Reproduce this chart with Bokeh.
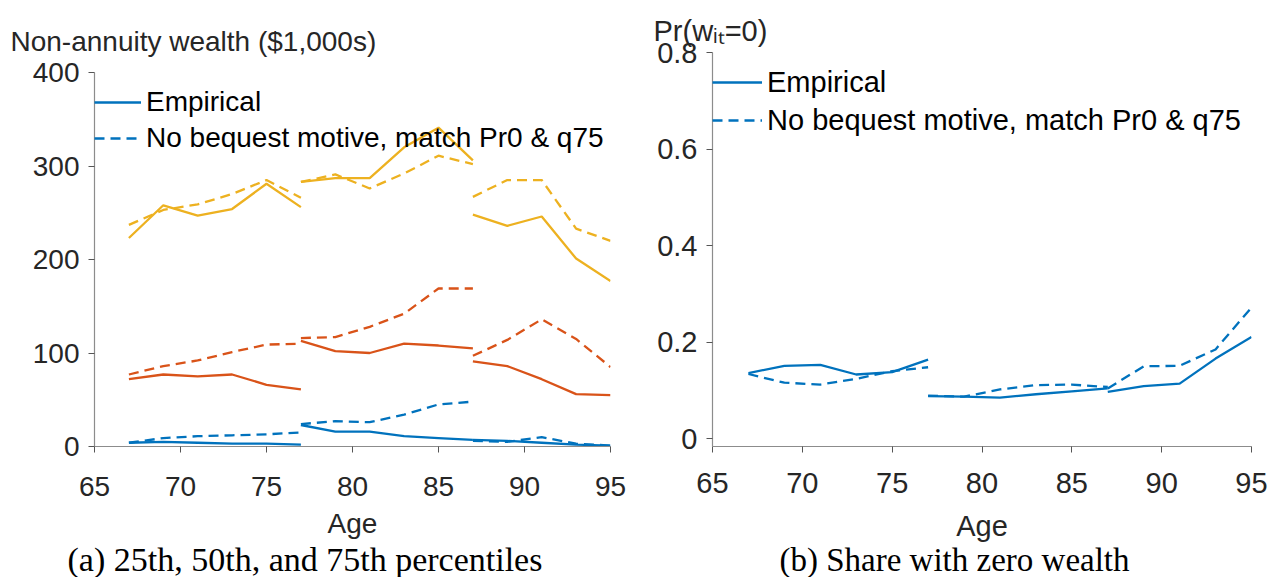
from bokeh.plotting import figure
from bokeh.layouts import row
from bokeh.models import Legend, LegendItem, FixedTicker, Range1d, Title
from bokeh.embed import file_html
from bokeh.resources import INLINE

# ---------------- data ----------------
age_a = [67, 69, 71, 73, 75, 77]
age_b = [77, 79, 81, 83, 85, 87]
age_c = [87, 89, 91, 93, 95]

# Panel (a): wealth percentiles ($1,000s)
p75_emp_a = [223, 258, 247, 254, 281, 256]
p75_emp_b = [283, 287, 287, 320, 341, 306]
p75_emp_c = [248, 236, 246, 201, 177]
p75_sim_a = [237, 253, 259, 270, 285, 266]
p75_sim_b = [283, 291, 276, 292, 311, 302]
p75_sim_c = [267, 285, 285, 233, 220]

p50_emp_a = [72, 77, 75, 77, 66, 61]
p50_emp_b = [113, 102, 100, 110, 108, 105]
p50_emp_c = [91, 86, 72, 56, 55]
p50_sim_a = [77, 86, 92, 101, 109, 110]
p50_sim_b = [116, 117, 128, 142, 169, 169]
p50_sim_c = [97, 114, 136, 115, 85]

p25_emp_a = [4, 5, 4, 3, 3, 2]
p25_emp_b = [23, 16, 16, 11, 9, 7]
p25_emp_c = [7, 6, 4, 2, 1]
p25_sim_a = [4, 9, 11, 12, 13, 15]
p25_sim_b = [24, 27, 26, 34, 45, 48]
p25_sim_c = [6, 5, 10, 3, 1]

# Panel (b): share with zero wealth
pr0_emp_a = [0.136, 0.151, 0.153, 0.133, 0.138, 0.164]
pr0_emp_b = [0.088, 0.087, 0.085, 0.092, 0.098, 0.104]
pr0_emp_c = [0.097, 0.109, 0.114, 0.166, 0.211]
pr0_sim_a = [0.134, 0.116, 0.112, 0.124, 0.140, 0.148]
pr0_sim_b = [0.089, 0.087, 0.102, 0.111, 0.112, 0.107]
pr0_sim_c = [0.104, 0.150, 0.151, 0.185, 0.272]

x_ticks = [65, 70, 75, 80, 85, 90, 95]
ya_ticks = [0, 100, 200, 300, 400]
yb_ticks = [0, 0.2, 0.4, 0.6, 0.8]
yb_tick_labels = ["0", "0.2", "0.4", "0.6", "0.8"]

legend_labels = ["Empirical", "No bequest motive, match Pr0 & q75"]
ylabel_a = "Non-annuity wealth ($1,000s)"
ylabel_b = "Pr(w\u1d62\u209c=0)"
caption_a = "(a) 25th, 50th, and 75th percentiles"
caption_b = "(b) Share with zero wealth"

# ---------------- style ----------------
BLUE = "#0072BD"
ORANGE = "#D95319"
YELLOW = "#EDB120"
SANS = "Liberation Sans"
SERIF = "Liberation Serif"
LW = 2.3
DASH = "10 6"
TXT = "#262626"


def base_fig(width, yr, ybounds, mbl, mbr, fs, s1, s2):
    p = figure(width=width, height=577, x_range=Range1d(65, 95), y_range=yr,
               output_backend="svg", toolbar_location=None, title=None,
               min_border_left=mbl, min_border_right=mbr,
               min_border_top=52, min_border_bottom=131)
    p.outline_line_color = None
    p.grid.visible = False
    for ax in (p.xaxis[0], p.yaxis[0]):
        ax.axis_line_color = "#8c8c8c"
        ax.axis_line_width = 1.2
        ax.major_tick_line_color = "#555555"
        ax.major_tick_in = 0
        ax.major_tick_out = 6
        ax.minor_tick_line_color = None
        ax.major_label_text_font = SANS
        ax.major_label_text_font_size = fs
        ax.major_label_text_color = TXT
    p.yaxis[0].bounds = ybounds
    p.xaxis[0].ticker = FixedTicker(ticks=x_ticks)
    p.xaxis[0].major_label_standoff = s1
    p.xaxis[0].axis_label = "Age"
    p.xaxis[0].axis_label_text_font = SANS
    p.xaxis[0].axis_label_text_font_size = fs
    p.xaxis[0].axis_label_text_font_style = "normal"
    p.xaxis[0].axis_label_text_color = TXT
    p.xaxis[0].axis_label_standoff = s2
    p.yaxis[0].major_label_standoff = 9
    return p


def add_legend(p, r_emp, r_sim, y, lh, gw, fs):
    leg = Legend(items=[LegendItem(label=legend_labels[0], renderers=[r_emp]),
                        LegendItem(label=legend_labels[1], renderers=[r_sim])],
                 location=(0, y), border_line_color=None, background_fill_alpha=0,
                 padding=0, margin=0, spacing=0, label_height=lh, glyph_height=lh,
                 glyph_width=gw, label_standoff=5,
                 label_text_font=SANS, label_text_font_size=fs, label_text_color="black")
    p.add_layout(leg)


def add_titles(p, ylabel, yoff, ystand, fs, caption, coff, cstand, cfs):
    p.add_layout(Title(text=ylabel, align="left", offset=yoff, standoff=ystand,
                       text_font=SANS, text_font_size=fs, text_font_style="normal",
                       text_color=TXT), "above")
    p.add_layout(Title(text=caption, align="left", offset=coff, standoff=cstand,
                       text_font=SERIF, text_font_size=cfs, text_font_style="normal",
                       text_color="black"), "below")


# ---------------- panel (a) ----------------
pa = base_fig(640, Range1d(0, 421.4), (0, 400), 94, 30, "28px", 24, 9)
pa.yaxis[0].ticker = FixedTicker(ticks=ya_ticks)

series_a = [
    (YELLOW, p75_emp_a, p75_emp_b, p75_emp_c, p75_sim_a, p75_sim_b, p75_sim_c),
    (ORANGE, p50_emp_a, p50_emp_b, p50_emp_c, p50_sim_a, p50_sim_b, p50_sim_c),
    (BLUE, p25_emp_a, p25_emp_b, p25_emp_c, p25_sim_a, p25_sim_b, p25_sim_c),
]
leg_r = None
for col, ea, eb, ec, sa, sb, sc in series_a:
    r1 = pa.line(age_a, ea, line_color=col, line_width=LW)
    pa.line(age_b, eb, line_color=col, line_width=LW)
    pa.line(age_c, ec, line_color=col, line_width=LW)
    r2 = pa.line(age_a, sa, line_color=col, line_width=LW, line_dash=DASH)
    pa.line(age_b, sb, line_color=col, line_width=LW, line_dash=DASH)
    pa.line(age_c, sc, line_color=col, line_width=LW, line_dash=DASH)
    leg_r = (r1, r2)
add_legend(pa, leg_r[0], leg_r[1], 290, 36, 47, "28px")
add_titles(pa, ylabel_a, -84, -9, "28px", caption_a, -27, -5, "34px")

# ---------------- panel (b) ----------------
pb = base_fig(630, Range1d(-0.0164, 0.801), (-0.0164, 0.8), 72, 19, "29px", 20, 14)
pb.yaxis[0].ticker = FixedTicker(ticks=yb_ticks)
pb.yaxis[0].major_label_overrides = {t: s for t, s in zip(yb_ticks, yb_tick_labels)}

rb1 = pb.line(age_a, pr0_emp_a, line_color=BLUE, line_width=LW)
pb.line(age_b, pr0_emp_b, line_color=BLUE, line_width=LW)
pb.line(age_c, pr0_emp_c, line_color=BLUE, line_width=LW)
rb2 = pb.line(age_a, pr0_sim_a, line_color=BLUE, line_width=LW, line_dash=DASH)
pb.line(age_b, pr0_sim_b, line_color=BLUE, line_width=LW, line_dash=DASH)
pb.line(age_c, pr0_sim_c, line_color=BLUE, line_width=LW, line_dash=DASH)
add_legend(pb, rb1, rb2, 307, 38, 50, "29px")
add_titles(pb, ylabel_b, -59, 12, "29px", caption_b, 67, -10, "33px")

layout = row(pa, pb, spacing=0)
open("out.html", "w").write(file_html(layout, INLINE))
